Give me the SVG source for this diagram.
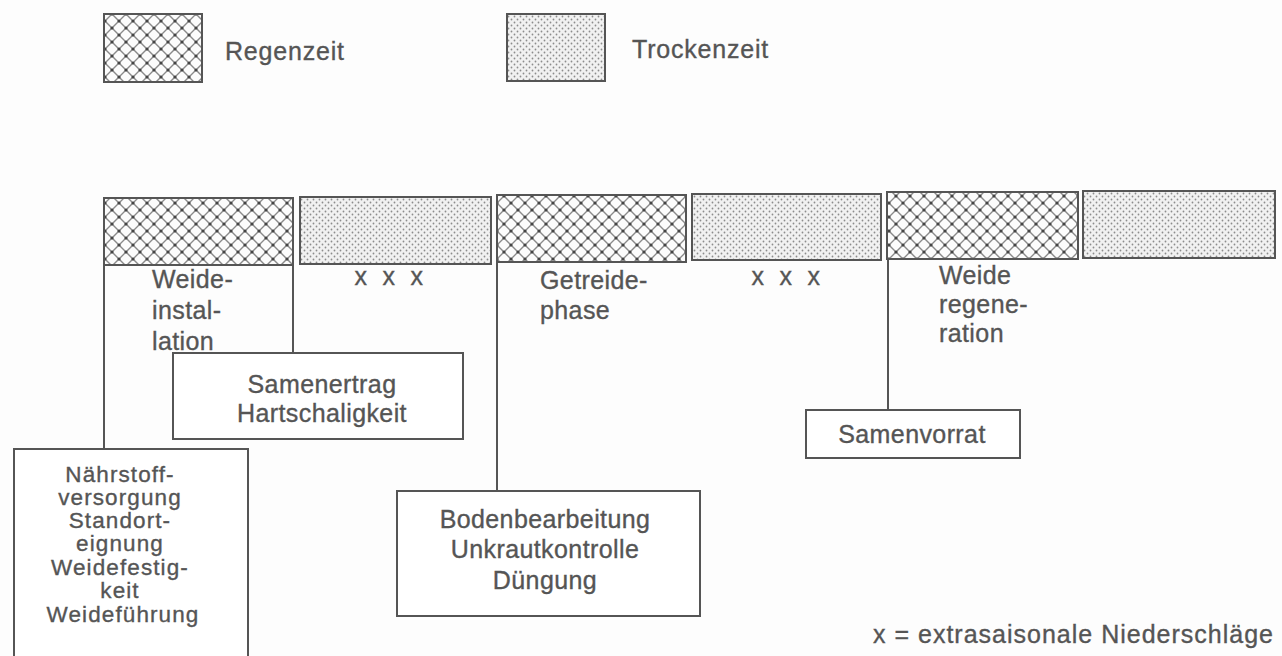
<svg xmlns="http://www.w3.org/2000/svg" width="1282" height="656" viewBox="0 0 1282 656">
  <defs>
    <pattern id="rain" patternUnits="userSpaceOnUse" width="14" height="14">
      <rect width="14" height="14" fill="#fcfcfc"/>
      <path d="M0,0 L14,14 M14,0 L0,14" stroke="#8a8a8a" stroke-width="1.4" fill="none"/>
      <circle cx="7" cy="7" r="1.6" fill="#444444"/>
      <circle cx="0" cy="0" r="1.6" fill="#444444"/>
      <circle cx="14" cy="0" r="1.6" fill="#444444"/>
      <circle cx="0" cy="14" r="1.6" fill="#444444"/>
      <circle cx="14" cy="14" r="1.6" fill="#444444"/>
    </pattern>
    <pattern id="dry" patternUnits="userSpaceOnUse" width="6" height="6">
      <rect width="6" height="6" fill="#f1f1f1"/>
      <circle cx="1.5" cy="1.5" r="0.9" fill="#8c8c8c"/>
      <circle cx="4.5" cy="4.5" r="0.9" fill="#8c8c8c"/>
    </pattern>
  </defs>
  <style>
    .t { font-family: "Liberation Sans", Arial, sans-serif; font-size: 25px; fill: #555555; stroke: #555555; stroke-width: 0.35px; letter-spacing: 0.4px; }
    .s { font-size: 22.5px; letter-spacing: 1.1px; }
    .c { text-anchor: middle; }
    .box { fill: #ffffff; stroke: #555555; stroke-width: 2; }
    .rain { fill: url(#rain); stroke: #555555; stroke-width: 2; }
    .dry { fill: url(#dry); stroke: #555555; stroke-width: 2; }
    .ln { stroke: #555555; stroke-width: 2; fill: none; }
  </style>
  <rect width="1282" height="656" fill="#fdfdfd"/>

  <g id="legend">
    <rect class="rain" x="104" y="14" width="98" height="68"/>
    <text class="t" x="225" y="60" style="letter-spacing:0.8px">Regenzeit</text>
    <rect class="dry" x="507" y="14" width="98" height="67"/>
    <text class="t" x="632" y="58" style="letter-spacing:0.8px">Trockenzeit</text>
  </g>

  <g id="timeline">
    <rect id="seg1" class="rain" x="104" y="198" width="189" height="67"/>
    <rect id="seg2" class="dry" x="300" y="197" width="191" height="67"/>
    <rect id="seg3" class="rain" x="497" y="195" width="189" height="67"/>
    <rect id="seg4" class="dry" x="692" y="194" width="189" height="66"/>
    <rect id="seg5" class="rain" x="887" y="192" width="191" height="67"/>
    <rect id="seg6" class="dry" x="1083" y="191" width="192" height="67"/>
  </g>

  <g id="connectors">
    <line class="ln" x1="104" y1="265" x2="104" y2="449"/>
    <line class="ln" x1="293" y1="265" x2="293" y2="353"/>
    <line class="ln" x1="497" y1="262" x2="497" y2="491"/>
    <line class="ln" x1="888" y1="259" x2="888" y2="410"/>
  </g>

  <g id="phase-labels">
    <text class="t" x="152" y="288">Weide-</text>
    <text class="t" x="152" y="319">instal-</text>
    <text class="t" x="152" y="350">lation</text>
    <text class="t c" x="361" y="285">x</text>
    <text class="t c" x="389" y="285">x</text>
    <text class="t c" x="417" y="285">x</text>
    <text class="t" x="540" y="289">Getreide-</text>
    <text class="t" x="540" y="319">phase</text>
    <text class="t c" x="758" y="285">x</text>
    <text class="t c" x="786" y="285">x</text>
    <text class="t c" x="814" y="285">x</text>
    <text class="t" x="939" y="284">Weide</text>
    <text class="t" x="939" y="313">regene-</text>
    <text class="t" x="939" y="342">ration</text>
  </g>

  <g id="node-samenertrag">
    <rect class="box" x="173" y="353" width="290" height="86"/>
    <text class="t c" x="322" y="393">Samenertrag</text>
    <text class="t c" x="322" y="422">Hartschaligkeit</text>
  </g>

  <g id="node-naehrstoff">
    <rect class="box" x="14" y="449" width="234" height="215"/>
    <text class="t s c" x="120" y="482">Nährstoff-</text>
    <text class="t s c" x="120" y="505">versorgung</text>
    <text class="t s c" x="120" y="528">Standort-</text>
    <text class="t s c" x="120" y="551">eignung</text>
    <text class="t s c" x="120" y="575">Weidefestig-</text>
    <text class="t s c" x="120" y="598">keit</text>
    <text class="t s c" x="123" y="622">Weideführung</text>
  </g>

  <g id="node-boden">
    <rect class="box" x="397" y="491" width="303" height="125"/>
    <text class="t c" x="545" y="528">Bodenbearbeitung</text>
    <text class="t c" x="545" y="558">Unkrautkontrolle</text>
    <text class="t c" x="545" y="589">Düngung</text>
  </g>

  <g id="node-samenvorrat">
    <rect class="box" x="806" y="410" width="214" height="48"/>
    <text class="t c" x="912" y="443">Samenvorrat</text>
  </g>

  <g id="footnote">
    <text class="t" x="873" y="643" style="letter-spacing:1px">x = extrasaisonale Niederschläge</text>
  </g>
</svg>
